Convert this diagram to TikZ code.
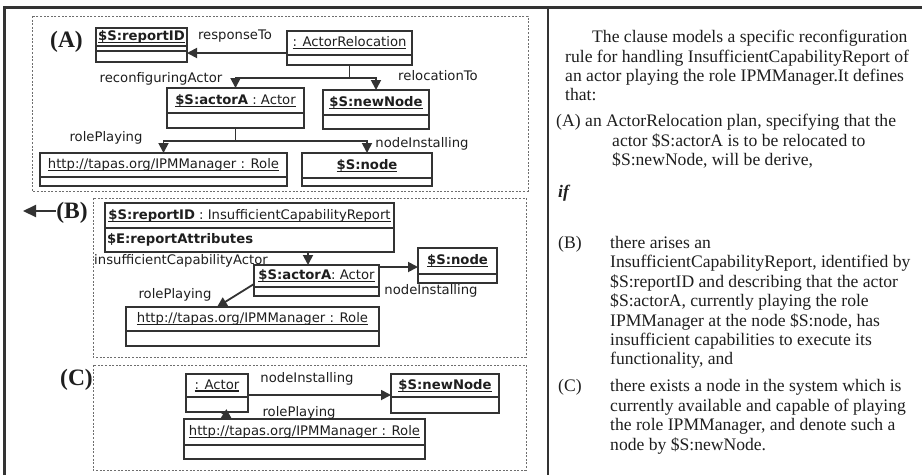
\documentclass[tikz,border=0pt]{standalone}
\usepackage{fontspec}
\setmainfont{Liberation Serif}
\newfontfamily\dgfont{DejaVu Sans}
\usetikzlibrary{arrows.meta}
\definecolor{inkc}{HTML}{1E1E1E}
\definecolor{linec}{HTML}{333333}
\definecolor{dashc}{HTML}{6E6E6E}
\newcommand\dgsize{\dgfont\fontsize{13.2}{15.8}\selectfont}
\newcommand\txsize{\rmfamily\fontsize{17.6}{20}\selectfont}
% underlined object name, with a heavier rule than \underline gives
\newcommand\ulbox[1]{\setbox0=\hbox{#1}\rlap{\rule[-2.6pt]{\wd0}{1.2pt}}\box0}
\begin{document}
\begin{tikzpicture}[x=1pt,y=-1pt,
  cls/.style={draw=linec, line width=1.8pt, inner sep=0pt, outer sep=0pt,
              anchor=north west, font=\dgsize, text=inkc},
  arr/.style={draw=linec, line width=1.8pt, -{Triangle[length=10pt,width=10pt]}},
  ln/.style={draw=linec, line width=1.8pt},
  lbl/.style={font=\dgsize, text=inkc, inner sep=0pt, anchor=base},
  zone/.style={draw=dashc, line width=0.9pt, dash pattern=on 2pt off 1.6pt},
  tag/.style={font=\fontsize{23.5}{26}\selectfont\bfseries, text=inkc, inner sep=0pt},
  panelrule/.style={draw=linec, line width=2.8pt},
  tx/.style={font=\txsize, text=inkc, inner sep=0pt, anchor=base west},
]
\useasboundingbox (0,0) rectangle (922,475);

% page frame and column divider
\draw[panelrule] (4.7,475) -- (4.7,7.5) -- (922,7.5);
\draw[panelrule] (548,7.5) -- (548,475);

% clause zones
\draw[zone] (32,16) rectangle (528,191);
\draw[zone] (93,198) rectangle (526,357);
\draw[zone] (93,365) rectangle (526,470);

\node[tag] (tagA) at (66.5,42) {(A)};
\node[tag] (tagB) at (72,213) {(B)};
\node[tag] (tagC) at (76.5,380) {(C)};
\coordinate (outB) at (23,211);
\draw[draw=linec, line width=2pt, -{Triangle[length=13pt,width=12pt]}] ([yshift=2pt]tagB.west) -- (outB);

% ---------- (A) derived plan ----------
\node[cls, minimum width=91pt, minimum height=18pt] (rid) at (96,28) {\ulbox{\textbf{\$S:reportID}}};
\node[cls, minimum width=91pt, minimum height=5pt] (rid2) at (rid.south west) {};
\node[cls, minimum width=91pt, minimum height=11pt] (rid3) at (rid2.south west) {};

\node[cls, minimum width=125pt, minimum height=24pt] (ar) at (287,31) {\ulbox{: ActorRelocation}};
\node[cls, minimum width=125pt, minimum height=10pt] (arL) at (ar.south west) {};

\node[cls, minimum width=137pt, minimum height=25pt] (aA) at (167,88) {\ulbox{\textbf{\$S:actorA} : Actor}};
\node[cls, minimum width=137pt, minimum height=15pt] (aAL) at (aA.south west) {};

\node[cls, minimum width=106pt, minimum height=25pt] (nn) at (323,90) {\ulbox{\textbf{\$S:newNode}}};
\node[cls, minimum width=106pt, minimum height=14pt] (nnL) at (nn.south west) {};

\node[cls, minimum width=247pt, minimum height=24pt] (roleA) at (40,153) {\ulbox{http://tapas.org/IPMManager : Role}};
\node[cls, minimum width=247pt, minimum height=9pt] (roleAL) at (roleA.south west) {};

\node[cls, minimum width=130pt, minimum height=25pt] (nodeA) at (302,153) {\ulbox{\textbf{\$S:node}}};
\node[cls, minimum width=130pt, minimum height=8pt] (nodeAL) at (nodeA.south west) {};

\coordinate (rt) at ([yshift=2pt]ar.south west);
\draw[arr] (rt) -- (rt -| rid3.east);
\coordinate (j1) at ([yshift=-13pt]arL.south);
\draw[ln] (arL.south) -- (j1);
\draw[arr] (j1) -| (aA.north);
\draw[arr] (j1) -| (nn.north);
\coordinate (j2) at ([yshift=-13pt]aAL.south);
\draw[ln] (aAL.south) -- (j2);
\draw[arr] (j2) -| (roleA.north);
\draw[arr] (j2) -| (nodeA.north);

\node[lbl] (l1) at (235,39) {responseTo};
\node[lbl] (l2) at (161,82) {reconfiguringActor};
\node[lbl] (l3) at (438,80) {relocationTo};
\node[lbl] (l4) at (106,141) {rolePlaying};
\node[lbl] (l5) at (422,147) {nodeInstalling};

% ---------- (B) triggering report ----------
\node[lbl] (l6) at (181,264) {insufficientCapabilityActor};
\node[cls, minimum width=289pt, minimum height=25pt] (rep) at (105,203) {\ulbox{\textbf{\$S:reportID} : InsufficientCapabilityReport}};
\node[cls, minimum width=289pt, minimum height=24pt, inner xsep=2pt, text width=285pt, align=left] (repL) at (rep.south west) {\textbf{\$E:reportAttributes}};

\node[cls, minimum width=125pt, minimum height=22pt] (aB) at (254,265) {\ulbox{\textbf{\$S:actorA}: Actor}};
\node[cls, minimum width=125pt, minimum height=9pt] (aBL) at (aB.south west) {};

\node[cls, minimum width=79pt, minimum height=26pt] (nodeB) at (418,248) {\ulbox{\textbf{\$S:node}}};
\node[cls, minimum width=79pt, minimum height=9pt] (nodeBL) at (nodeB.south west) {};

\node[cls, minimum width=253pt, minimum height=24pt] (roleB) at (126,307) {\ulbox{http://tapas.org/IPMManager : Role}};
\node[cls, minimum width=253pt, minimum height=15pt] (roleBL) at (roleB.south west) {};

\coordinate (kx) at (308,0);
\draw[arr] (repL.south -| kx) -- (aB.north -| kx);
\coordinate (bq) at ([yshift=-2pt]aB.north east);
\draw[arr] (bq) -- (bq -| nodeB.west);
\coordinate (br) at ([yshift=3pt]aB.south west);
\coordinate (bs) at ([xshift=91pt]roleB.north west);
\draw[arr] (br) -- (bs);

\node[lbl] (l7) at (431,294) {nodeInstalling};
\node[lbl] (l8) at (175,298) {rolePlaying};

% ---------- (C) candidate node ----------
\node[cls, minimum width=62pt, minimum height=23pt] (actC) at (186,374) {\ulbox{: Actor}};
\node[cls, minimum width=62pt, minimum height=15pt] (actCL) at (actC.south west) {};

\node[cls, minimum width=108pt, minimum height=23pt] (nnC) at (391,374) {\ulbox{\textbf{\$S:newNode}}};
\node[cls, minimum width=108pt, minimum height=16pt] (nnCL) at (nnC.south west) {};

\node[cls, minimum width=241pt, minimum height=26pt] (roleC) at (184,419) {\ulbox{http://tapas.org/IPMManager : Role}};
\node[cls, minimum width=241pt, minimum height=14pt] (roleCL) at (roleC.south west) {};

\coordinate (cq) at ([yshift=2pt]actC.south east);
\draw[arr] (cq) -- (cq -| nnC.west);
\coordinate (cr) at ([xshift=4pt]actCL.south);
\coordinate (cs) at ([xshift=48pt]roleC.north west);
\draw[arr] (cr) -- (cs);

\node[lbl] (l9) at (307,382) {nodeInstalling};
\node[lbl] (l10) at (299,416) {rolePlaying};

% ---------- explanation column ----------
\node[tx] (p1) at (592,42) {The clause models a specific reconfiguration};
\node[tx] (p2) at (565,62) {rule for handling InsufficientCapabilityReport of};
\node[tx] (p3) at (565,81) {an actor playing the role IPMManager.It defines};
\node[tx] (p4) at (565,100) {that:};

\node[tx] (a0) at (556,126) {(A)};
\node[tx] (a1) at (585,126) {an ActorRelocation plan, specifying that the};
\node[tx] (a2) at (612,146) {actor \$S:actorA is to be relocated to};
\node[tx] (a3) at (612,165) {\$S:newNode, will be derive,};

\node[tx, font=\txsize\bfseries\itshape] (cond) at (558,197) {if};

\node[tx] (b0) at (558,248) {(B)};
\node[tx] (bt1) at (610,248) {there arises an};
\node[tx] (bt2) at (610,267) {InsufficientCapabilityReport, identified by};
\node[tx] (bt3) at (610,287) {\$S:reportID and describing that the actor};
\node[tx] (bt4) at (610,306) {\$S:actorA, currently playing the role};
\node[tx] (bt5) at (610,326) {IPMManager at the node \$S:node, has};
\node[tx] (bt6) at (610,345) {insufficient capabilities to execute its};
\node[tx] (bt7) at (610,364) {functionality, and};

\node[tx] (c0) at (558,391) {(C)};
\node[tx] (ct1) at (610,391) {there exists a node in the system which is};
\node[tx] (ct2) at (610,411) {currently available and capable of playing};
\node[tx] (ct3) at (610,430) {the role IPMManager, and denote such a};
\node[tx] (ct4) at (610,450) {node by \$S:newNode.};
\end{tikzpicture}
\end{document}
